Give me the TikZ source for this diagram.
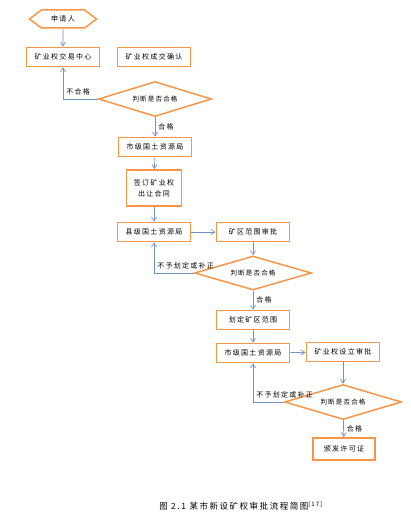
\documentclass[tikz,border=0pt]{standalone}
\usepackage{fontspec}
\newfontfamily\cjk[LetterSpace=18]{Noto Sans CJK SC}
\usepackage{xcolor}
\definecolor{flworange}{RGB}{247,150,70}
\definecolor{flwblue}{RGB}{112,146,196}
\usetikzlibrary{arrows.meta, positioning, shapes.geometric, shapes.symbols}

\tikzset{
  procbox/.style={draw=flworange, line width=1.7pt, fill=white, font=\cjk\fontsize{7}{9}\selectfont,
    minimum width=73pt, minimum height=19pt, inner sep=1pt, align=center},
  judge/.style={diamond, draw=flworange, line width=1.5pt, fill=white, font=\cjk\fontsize{6.5}{8}\selectfont,
    aspect=3.3, inner sep=0pt},
  flow/.style={draw=flwblue, line width=0.7pt, -{Straight Barb[length=4pt,width=5pt]}},
  flowlabel/.style={font=\cjk\fontsize{7}{9}\selectfont, inner sep=1pt},
  backlabel/.style={flowlabel, pos=0.5, anchor=south west, xshift=2pt, yshift=3pt}
}

\begin{document}
\begin{tikzpicture}[x=1pt, y=-1pt]
  \useasboundingbox (0,0) rectangle (410,519);
  % Start
  \node[signal, signal to=west and east, signal pointer angle=74, draw=flworange, line width=1.5pt,
    font=\cjk\fontsize{7}{9}\selectfont, minimum width=67pt, minimum height=18pt, inner sep=1pt] (apply) at (63,19) {申请人};
  % First stage
  \node[procbox] (trade) at (63,57) {矿业权交易中心};
  \node[procbox] (confirm) at (154,57) {矿业权成交确认};
  \node[judge, minimum width=113pt, minimum height=35pt] (judgeA) at (155,99) {判断是否合格};
  \node[procbox] (cityA) at (155,147) {市级国土资源局};
  \node[procbox, minimum width=55pt, minimum height=36pt] (contract) at (154,188) {签订矿业权\\[2pt]出让合同};
  % Second stage
  \node[procbox] (county) at (154,232) {县级国土资源局};
  \node[procbox] (rangeok) at (253,232) {矿区范围审批};
  \node[judge, minimum width=117pt, minimum height=34pt] (judgeB) at (253,273) {判断是否合格};
  \node[procbox] (setrange) at (253,320) {划定矿区范围};
  % Third stage
  \node[procbox] (cityB) at (253,353) {市级国土资源局};
  \node[procbox] (setup) at (343,352) {矿业权设立审批};
  \node[judge, minimum width=117pt, minimum height=35pt] (judgeC) at (343,402) {判断是否合格};
  \node[procbox, minimum width=62pt, minimum height=22pt] (licence) at (344,449) {颁发许可证};

  % Connectors
  \draw[flow] (apply) -- (trade);
  \draw[flow] (judgeA.west) -| (trade.south) node[backlabel] {不合格};
  \draw[flow] (judgeA) -- (cityA) node[flowlabel, midway, right=2pt] {合格};
  \draw[flow] (cityA) -- (contract);
  \draw[flow] (contract) -- (county);
  \draw[flow] (county) -- (rangeok);
  \draw[flow] (rangeok) -- (judgeB);
  \draw[flow] (judgeB.west) -| (county.south) node[backlabel] {不予划定或补正};
  \draw[flow] (judgeB) -- (setrange) node[flowlabel, midway, right=2pt] {合格};
  \draw[flow] (setrange) -- (cityB);
  \draw[flow] (cityB) -- (setup);
  \draw[flow] (setup) -- (judgeC);
  \draw[flow] (judgeC.west) -| (cityB.south) node[backlabel] {不予划定或补正};
  \draw[flow] (judgeC) -- (licence) node[flowlabel, midway, right=2pt] {合格};

  % Caption
  \node[font=\cjk\fontsize{8.5}{10}\selectfont] (caption) at (241,506) {图 2.1 某市新设矿权审批流程简图\textsuperscript{[17]}};
\end{tikzpicture}
\end{document}
